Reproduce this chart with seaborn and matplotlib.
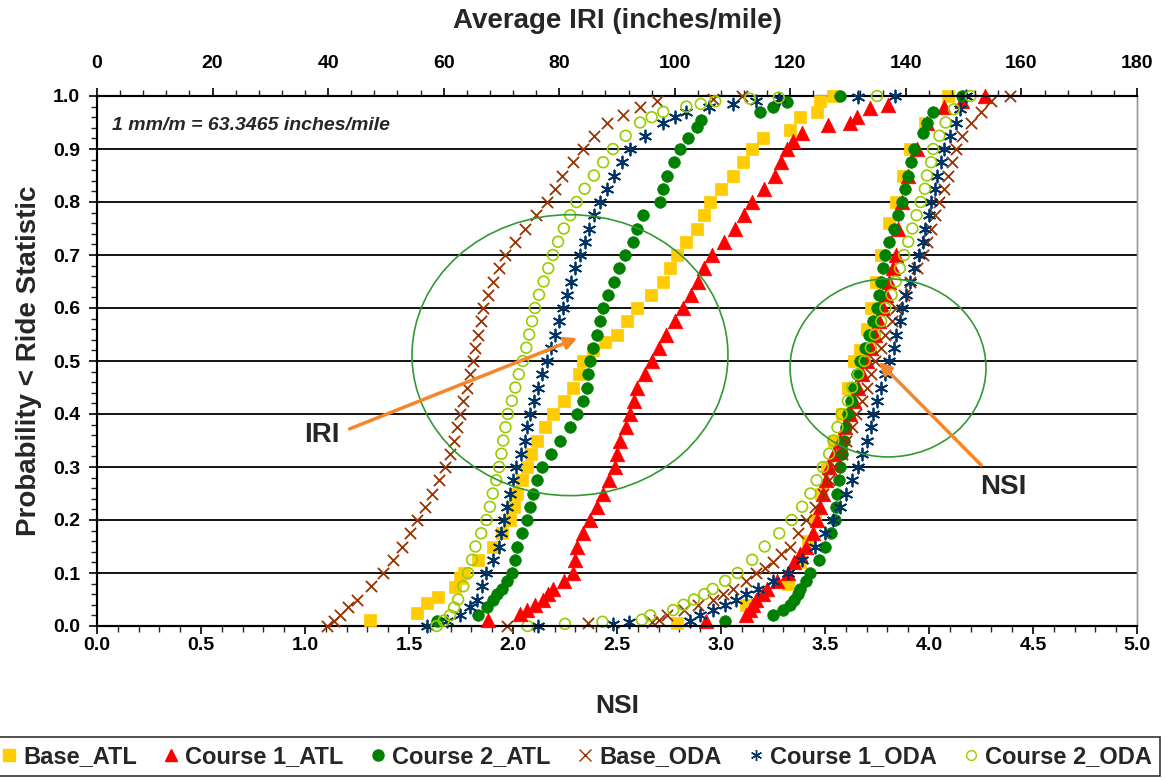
import matplotlib
matplotlib.use("Agg")
import matplotlib.pyplot as plt
from matplotlib.patches import Ellipse
from matplotlib.lines import Line2D
from matplotlib.ticker import MultipleLocator
import seaborn as sns

series = ["Base_ATL", "Course 1_ATL", "Course 2_ATL", "Base_ODA", "Course 1_ODA", "Course 2_ODA"]

# IRI curves, values in inches/mile (top axis), with their cumulative probabilities
iri_base_atl_p = [0.011, 0.024, 0.043, 0.055, 0.074, 0.09, 0.10, 0.125, 0.15, 0.175, 0.20, 0.225, 0.25, 0.275,
                  0.30, 0.325, 0.35, 0.375, 0.40, 0.425, 0.45, 0.475, 0.50, 0.52, 0.535, 0.55, 0.575, 0.60,
                  0.625, 0.65, 0.675, 0.70, 0.725, 0.75, 0.775, 0.80, 0.825, 0.85, 0.875, 0.90, 0.92, 0.936,
                  0.96, 0.97, 0.99, 1.0]
iri_base_atl_x = [47.3, 55.4, 57.1, 59.0, 62.0, 62.8, 63.5, 66.0, 68.5, 70.1, 71.5, 72.2, 72.7, 73.5,
                  74.4, 75.2, 76.1, 77.5, 78.9, 80.8, 82.4, 83.4, 84.1, 85.8, 88.0, 90.0, 91.8, 93.5,
                  95.8, 98.0, 99.2, 100.4, 102.0, 103.8, 105.0, 106.1, 108.0, 110.1, 111.8, 113.4, 115.3, 119.9,
                  121.7, 124.6, 125.1, 127.4]

iri_c1_atl_p = [0.011, 0.022, 0.03, 0.04, 0.05, 0.06, 0.07, 0.085, 0.10, 0.125, 0.15, 0.175, 0.20, 0.225,
                0.25, 0.275, 0.30, 0.325, 0.35, 0.375, 0.40, 0.425, 0.45, 0.475, 0.50, 0.525, 0.55, 0.575,
                0.60, 0.625, 0.65, 0.675, 0.70, 0.725, 0.75, 0.775, 0.80, 0.825, 0.85, 0.875, 0.90, 0.915,
                0.93, 0.946, 0.95, 0.96, 0.977, 0.983]
iri_c1_atl_x = [67.7, 73.2, 74.4, 75.8, 77.2, 78.0, 78.9, 80.8, 82.4, 82.8, 83.1, 84.2, 85.3, 86.5,
                87.6, 88.6, 89.6, 90.0, 90.5, 91.5, 92.3, 92.9, 93.5, 94.8, 96.0, 97.2, 98.5, 100.0,
                101.4, 102.8, 104.0, 105.0, 106.4, 108.5, 110.4, 112.0, 113.4, 115.5, 117.3, 118.4, 119.4, 120.5,
                122.0, 126.5, 130.3, 131.5, 133.8, 136.9]

iri_c2_atl_p = [0.01, 0.02, 0.036, 0.05, 0.06, 0.07, 0.085, 0.10, 0.125, 0.15, 0.175, 0.20, 0.225, 0.25,
                0.275, 0.30, 0.325, 0.35, 0.375, 0.40, 0.425, 0.45, 0.475, 0.50, 0.525, 0.55, 0.575, 0.60,
                0.625, 0.65, 0.675, 0.70, 0.725, 0.75, 0.775, 0.80, 0.825, 0.85, 0.875, 0.90, 0.92, 0.942,
                0.955, 0.97, 0.98, 0.989, 1.0]
iri_c2_atl_x = [58.8, 66.0, 67.5, 68.5, 69.3, 70.1, 71.0, 71.8, 72.3, 72.7, 73.5, 74.4, 75.0, 75.5,
                76.2, 77.0, 78.5, 80.1, 81.8, 83.1, 84.2, 84.8, 85.0, 85.3, 85.9, 86.5, 87.0, 87.6,
                88.5, 89.5, 90.4, 91.4, 92.8, 93.5, 94.5, 97.4, 98.0, 98.7, 99.8, 100.9, 102.3, 103.8,
                104.6, 114.8, 117.0, 119.4, 128.6]

iri_base_oda_p = [0.0, 0.01, 0.02, 0.035, 0.05, 0.075, 0.10, 0.125, 0.15, 0.175, 0.20, 0.225, 0.25, 0.275,
                  0.30, 0.325, 0.35, 0.375, 0.40, 0.425, 0.45, 0.475, 0.50, 0.525, 0.55, 0.575, 0.60, 0.625,
                  0.65, 0.675, 0.70, 0.725, 0.75, 0.775, 0.80, 0.825, 0.85, 0.875, 0.90, 0.925, 0.95, 0.965,
                  0.98, 0.99, 0.995, 1.0]
iri_base_oda_x = [39.8, 41.0, 42.1, 43.5, 45.0, 47.5, 49.5, 51.2, 52.8, 54.2, 55.4, 56.8, 58.0, 59.2,
                  60.3, 61.1, 61.8, 62.3, 62.8, 63.4, 64.0, 64.5, 65.0, 65.5, 66.0, 66.4, 66.8, 67.6,
                  68.5, 69.5, 70.6, 72.3, 74.0, 76.0, 77.8, 79.2, 80.5, 82.3, 84.1, 86.0, 88.3, 91.0,
                  94.0, 96.9, 106.6, 111.6]

iri_c1_oda_p = [0.0, 0.01, 0.02, 0.035, 0.05, 0.075, 0.10, 0.125, 0.15, 0.175, 0.20, 0.225, 0.25, 0.275,
                0.30, 0.325, 0.35, 0.375, 0.40, 0.425, 0.45, 0.475, 0.50, 0.525, 0.55, 0.575, 0.60, 0.625,
                0.65, 0.675, 0.70, 0.725, 0.75, 0.775, 0.80, 0.825, 0.85, 0.875, 0.90, 0.925, 0.95, 0.96,
                0.97, 0.98, 0.985, 0.99, 0.995, 0.998, 1.0]
iri_c1_oda_x = [57.1, 60.5, 62.8, 64.5, 65.8, 66.7, 67.4, 68.5, 69.5, 70.0, 70.4, 71.0, 71.5, 72.0,
                72.6, 73.3, 74.0, 74.5, 74.9, 75.6, 76.3, 77.1, 77.9, 78.6, 79.3, 80.0, 80.7, 81.3,
                82.0, 82.8, 83.6, 84.4, 85.2, 86.1, 87.1, 88.2, 89.5, 90.8, 92.3, 94.8, 98.0, 100.0,
                102.0, 106.0, 110.0, 114.0, 118.0, 131.7, 138.1]

iri_c2_oda_p = [0.0, 0.01, 0.02, 0.035, 0.05, 0.075, 0.10, 0.125, 0.15, 0.175, 0.20, 0.225, 0.25, 0.275,
                0.30, 0.325, 0.35, 0.375, 0.40, 0.425, 0.45, 0.475, 0.50, 0.525, 0.55, 0.575, 0.60, 0.625,
                0.65, 0.675, 0.70, 0.725, 0.75, 0.775, 0.80, 0.825, 0.85, 0.875, 0.90, 0.925, 0.95, 0.96,
                0.97, 0.98, 0.985, 0.99, 0.995, 0.997, 1.0]
iri_c2_oda_x = [58.8, 60.0, 61.1, 61.8, 62.5, 63.4, 64.2, 64.9, 65.5, 66.5, 67.4, 68.0, 68.5, 69.1,
                69.6, 70.0, 70.3, 70.7, 71.1, 71.8, 72.4, 73.0, 73.7, 74.3, 74.8, 75.3, 75.8, 76.5,
                77.3, 78.1, 78.9, 79.8, 80.8, 81.9, 83.0, 84.4, 86.0, 87.6, 89.3, 91.5, 94.0, 96.0,
                98.0, 102.0, 104.5, 107.0, 113.0, 118.0, 135.0]

# NSI curves (bottom axis)
nsi_base_atl_p = [0.005, 0.04, 0.08, 0.12, 0.16, 0.20, 0.25, 0.30, 0.35, 0.40, 0.45, 0.50, 0.52, 0.56,
                  0.60, 0.65, 0.70, 0.76, 0.80, 0.85, 0.90, 0.95, 1.0]
nsi_base_atl_x = [2.79, 3.12, 3.32, 3.38, 3.42, 3.45, 3.48, 3.51, 3.545, 3.58, 3.61, 3.64, 3.67, 3.70,
                  3.72, 3.745, 3.77, 3.81, 3.84, 3.875, 3.91, 3.98, 4.09]

nsi_c1_atl_p = [0.01, 0.02, 0.03, 0.04, 0.05, 0.06, 0.07, 0.085, 0.10, 0.12, 0.135, 0.15, 0.175, 0.20,
                0.225, 0.25, 0.275, 0.30, 0.325, 0.35, 0.375, 0.40, 0.425, 0.45, 0.475, 0.50, 0.525, 0.55,
                0.575, 0.60, 0.625, 0.65, 0.675, 0.70, 0.75, 0.80, 0.85, 0.90, 0.95, 0.98, 0.99, 1.0]
nsi_c1_atl_x = [2.93, 3.12, 3.14, 3.155, 3.17, 3.20, 3.22, 3.27, 3.32, 3.35, 3.38, 3.41, 3.44, 3.46,
                3.475, 3.49, 3.505, 3.52, 3.545, 3.57, 3.595, 3.62, 3.64, 3.66, 3.68, 3.70, 3.72, 3.74,
                3.76, 3.78, 3.795, 3.81, 3.825, 3.84, 3.85, 3.87, 3.90, 3.94, 3.99, 4.07, 4.16, 4.27]

nsi_c2_atl_p = [0.01, 0.02, 0.03, 0.04, 0.05, 0.06, 0.07, 0.085, 0.10, 0.125, 0.15, 0.175, 0.20, 0.225,
                0.25, 0.275, 0.30, 0.325, 0.35, 0.375, 0.40, 0.425, 0.45, 0.475, 0.50, 0.525, 0.55, 0.575,
                0.60, 0.625, 0.65, 0.675, 0.70, 0.725, 0.75, 0.775, 0.80, 0.825, 0.85, 0.875, 0.90, 0.93,
                0.95, 0.97, 1.0]
nsi_c2_atl_x = [3.02, 3.25, 3.30, 3.33, 3.35, 3.37, 3.38, 3.41, 3.43, 3.47, 3.50, 3.53, 3.55, 3.555,
                3.56, 3.565, 3.57, 3.58, 3.59, 3.60, 3.61, 3.625, 3.64, 3.655, 3.67, 3.69, 3.71, 3.73,
                3.75, 3.76, 3.77, 3.78, 3.79, 3.81, 3.83, 3.85, 3.87, 3.885, 3.90, 3.915, 3.93, 3.97,
                3.99, 4.02, 4.16]

nsi_base_oda_p = [0.0, 0.005, 0.008, 0.012, 0.02, 0.03, 0.04, 0.05, 0.06, 0.07, 0.085, 0.10, 0.11, 0.12,
                  0.135, 0.15, 0.175, 0.20, 0.225, 0.25, 0.275, 0.30, 0.325, 0.35, 0.375, 0.40, 0.425, 0.45,
                  0.475, 0.50, 0.525, 0.55, 0.575, 0.60, 0.625, 0.65, 0.675, 0.70, 0.725, 0.75, 0.775, 0.80,
                  0.825, 0.85, 0.875, 0.90, 0.925, 0.95, 0.97, 0.99, 1.0]
nsi_base_oda_x = [1.97, 2.36, 2.67, 2.70, 2.74, 2.82, 2.89, 2.96, 3.01, 3.06, 3.12, 3.17, 3.21, 3.25,
                  3.29, 3.33, 3.37, 3.41, 3.45, 3.49, 3.52, 3.55, 3.58, 3.60, 3.63, 3.65, 3.68, 3.70,
                  3.72, 3.74, 3.77, 3.79, 3.82, 3.84, 3.88, 3.91, 3.94, 3.97, 3.99, 4.01, 4.03, 4.05,
                  4.07, 4.09, 4.11, 4.13, 4.16, 4.20, 4.25, 4.30, 4.39]

nsi_c1_oda_p = [0.0, 0.004, 0.007, 0.01, 0.02, 0.03, 0.04, 0.05, 0.06, 0.07, 0.085, 0.10, 0.125, 0.15,
                0.175, 0.20, 0.225, 0.25, 0.275, 0.30, 0.325, 0.35, 0.375, 0.40, 0.425, 0.45, 0.475, 0.50,
                0.525, 0.55, 0.575, 0.60, 0.625, 0.65, 0.675, 0.70, 0.725, 0.75, 0.775, 0.80, 0.825, 0.85,
                0.875, 0.90, 0.925, 0.95, 0.975, 1.0]
nsi_c1_oda_x = [2.12, 2.48, 2.56, 2.85, 2.90, 2.96, 3.02, 3.07, 3.12, 3.18, 3.25, 3.32, 3.39, 3.45,
                3.50, 3.54, 3.57, 3.60, 3.63, 3.66, 3.68, 3.70, 3.72, 3.73, 3.75, 3.77, 3.79, 3.81,
                3.83, 3.84, 3.86, 3.87, 3.89, 3.91, 3.93, 3.95, 3.97, 3.98, 4.00, 4.01, 4.03, 4.04,
                4.06, 4.07, 4.10, 4.13, 4.15, 4.18]

nsi_c2_oda_p = [0.0, 0.004, 0.008, 0.012, 0.02, 0.03, 0.04, 0.05, 0.06, 0.07, 0.085, 0.10, 0.125, 0.15,
                0.175, 0.20, 0.225, 0.25, 0.275, 0.30, 0.325, 0.35, 0.375, 0.40, 0.425, 0.45, 0.475, 0.50,
                0.525, 0.55, 0.575, 0.60, 0.625, 0.65, 0.675, 0.70, 0.725, 0.75, 0.775, 0.80, 0.825, 0.85,
                0.875, 0.90, 0.925, 0.95, 0.975, 1.0]
nsi_c2_oda_x = [2.07, 2.25, 2.43, 2.62, 2.66, 2.77, 2.82, 2.87, 2.92, 2.96, 3.02, 3.08, 3.15, 3.21,
                3.28, 3.34, 3.39, 3.43, 3.46, 3.49, 3.52, 3.54, 3.56, 3.58, 3.61, 3.63, 3.66, 3.69,
                3.72, 3.74, 3.77, 3.79, 3.82, 3.84, 3.86, 3.88, 3.90, 3.92, 3.94, 3.96, 3.98, 3.99,
                4.01, 4.02, 4.05, 4.08, 4.12, 4.20]

iri_x = [iri_base_atl_x, iri_c1_atl_x, iri_c2_atl_x, iri_base_oda_x, iri_c1_oda_x, iri_c2_oda_x]
iri_p = [iri_base_atl_p, iri_c1_atl_p, iri_c2_atl_p, iri_base_oda_p, iri_c1_oda_p, iri_c2_oda_p]
nsi_x = [nsi_base_atl_x, nsi_c1_atl_x, nsi_c2_atl_x, nsi_base_oda_x, nsi_c1_oda_x, nsi_c2_oda_x]
nsi_p = [nsi_base_atl_p, nsi_c1_atl_p, nsi_c2_atl_p, nsi_base_oda_p, nsi_c1_oda_p, nsi_c2_oda_p]

colors = ["#FFCC00", "#FF0000", "#008000", "#993300", "#003366", "#99CC00"]
markers = ["s", "^", "o", "x", (6, 2, 0), "o"]
sizes = [85, 110, 70, 65, 75, 60]
hollow = [False, False, False, False, False, True]

sns.set_theme(style="white")
plt.rcParams["font.family"] = ["Liberation Sans", "DejaVu Sans"]

fig = plt.figure(figsize=(11.67, 7.8), dpi=100)
ax = fig.add_axes([97 / 1167, 1 - 626 / 780, 1040 / 1167, 530 / 780])
ax2 = ax.twiny()


def draw(axis, xs, ps):
    for i in range(len(series)):
        kw = dict(x=xs[i], y=ps[i], ax=axis, marker=markers[i], color=colors[i], s=sizes[i],
                  zorder=3, clip_on=False)
        if hollow[i]:
            kw.update(facecolor="none", edgecolor=colors[i], linewidth=1.2)
        elif markers[i] in ("x", (6, 2, 0)):
            kw.update(linewidth=1.3)
        else:
            kw.update(edgecolor=colors[i], linewidth=0.5)
        sns.scatterplot(**kw)


draw(ax, nsi_x, nsi_p)
draw(ax2, iri_x, iri_p)

ax.set_xlim(0, 5)
ax.set_ylim(0, 1)
ax2.set_xlim(0, 180)

ax.xaxis.set_major_locator(MultipleLocator(0.5))
ax.xaxis.set_minor_locator(MultipleLocator(0.1))
ax.yaxis.set_major_locator(MultipleLocator(0.1))
ax.yaxis.set_minor_locator(MultipleLocator(0.02))
ax2.xaxis.set_major_locator(MultipleLocator(20))
ax2.xaxis.set_minor_locator(MultipleLocator(4))
ax.xaxis.set_major_formatter(lambda v, pos: f"{v:.1f}")
ax.yaxis.set_major_formatter(lambda v, pos: f"{v:.1f}")

for a in (ax, ax2):
    a.tick_params(which="major", direction="out", length=6, width=1.2, labelsize=14, colors="black")
    a.tick_params(which="minor", direction="out", length=4, width=1.0)
ax.tick_params(axis="x", which="both", bottom=True, top=False, pad=2)
ax.tick_params(axis="y", which="both", left=True, right=False, pad=6)
ax2.tick_params(axis="x", which="both", top=True, bottom=False, pad=11)
for lab in ax.get_xticklabels() + ax.get_yticklabels() + ax2.get_xticklabels():
    lab.set_fontweight("bold")

ax.grid(axis="y", which="major", color="black", linewidth=1.3)
ax.set_axisbelow(True)
for a in (ax, ax2):
    for side in ("left", "bottom", "top"):
        a.spines[side].set_color("black")
        a.spines[side].set_linewidth(1.5)
    a.spines["right"].set_color("#999999")
    a.spines["right"].set_linewidth(1.0)

ax.set_xlabel("NSI", fontsize=19, fontweight="bold", labelpad=29)
ax2.set_xlabel("Average IRI (inches/mile)", fontsize=20, fontweight="bold", labelpad=20)
ax.set_ylabel("Probability < Ride Statistic", fontsize=20, fontweight="bold", labelpad=8)

ax.text(0.0144, 0.945, "1 mm/m = 63.3465 inches/mile", transform=ax.transAxes, fontsize=14,
        style="italic", fontweight="bold", va="center", ha="left")

ell_color = "#339933"
ax2.add_patch(Ellipse((2.274, 0.511), 1.519, 0.530, transform=ax.transData, fill=False,
                      edgecolor=ell_color, linewidth=1.2, zorder=4))
ax2.add_patch(Ellipse((3.803, 0.487), 0.942, 0.336, transform=ax.transData, fill=False,
                      edgecolor=ell_color, linewidth=1.2, zorder=4))

arrow_color = "#F7862A"
ax2.annotate("", xy=(2.322, 0.545), xytext=(1.202, 0.370), xycoords=ax.transData, textcoords=ax.transData,
             arrowprops=dict(arrowstyle="-|>", color=arrow_color, lw=2.5, mutation_scale=18), zorder=5)
ax2.annotate("", xy=(3.75, 0.502), xytext=(4.26, 0.300), xycoords=ax.transData, textcoords=ax.transData,
             arrowprops=dict(arrowstyle="-|>", color=arrow_color, lw=2.5, mutation_scale=18), zorder=5)
ax2.text(1.082, 0.360, "IRI", transform=ax.transData, fontsize=20, fontweight="bold", ha="center", va="center")
ax2.text(4.356, 0.262, "NSI", transform=ax.transData, fontsize=20, fontweight="bold", ha="center", va="center")

handles = []
for i in range(len(series)):
    if hollow[i]:
        h = Line2D([], [], linestyle="none", marker="o", markersize=7, markerfacecolor="none",
                   markeredgecolor=colors[i], markeredgewidth=1.0)
    elif markers[i] in ("x", (6, 2, 0)):
        h = Line2D([], [], linestyle="none", marker=markers[i], markersize=8, color=colors[i],
                   markeredgewidth=1.0)
    else:
        h = Line2D([], [], linestyle="none", marker=markers[i], markersize=8, color=colors[i])
    handles.append(h)

leg = fig.legend(handles, series, loc="center right", bbox_to_anchor=(1160 / 1167, 0.0301), ncol=6,
                 frameon=True, fancybox=False, handletextpad=0.15, columnspacing=1.0, borderaxespad=0,
                 borderpad=0.35, handlelength=0.9, prop={"size": 17, "weight": "bold"})
leg.get_frame().set_edgecolor("black")
leg.get_frame().set_linewidth(1.2)

fig.savefig("out.png", dpi=100)
